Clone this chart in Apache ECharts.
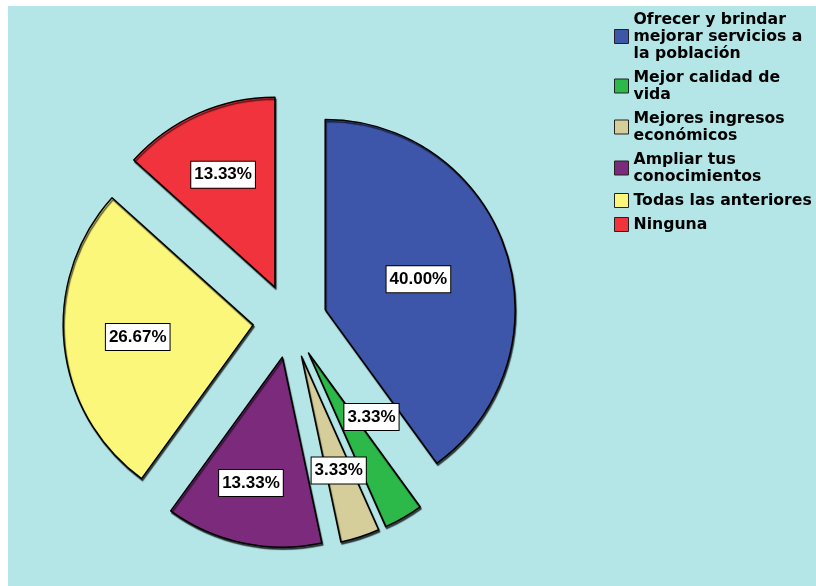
<!DOCTYPE html>
<html>
<head>
<meta charset="utf-8">
<script src="https://cdn.jsdelivr.net/npm/echarts@6/dist/echarts.min.js"></script>
<style>html,body{margin:0;padding:0;background:#fff;}#c{width:816px;height:586px;}</style>
</head>
<body>
<div id="c"></div>
<script>
const categories = [
  "Ofrecer y brindar\nmejorar servicios a\nla población",
  "Mejor calidad de\nvida",
  "Mejores ingresos\neconómicos",
  "Ampliar tus\nconocimientos",
  "Todas las anteriores",
  "Ninguna"
];
const percentValues = [40.00, 3.33, 3.33, 13.33, 26.67, 13.33];
const sliceColors = ["#3d56a9", "#2db84a", "#d5ce9a", "#7b2a7c", "#fbf77a", "#f0333c"];
// label nudges (px) from the default inside position
const labelNudges = [[0, 0], [14, -21], [7, 21], [-11, 30], [-18, 2], [-12, -23]];

const chart = echarts.init(document.getElementById('c'));
const data = categories.map((name, i) => ({
  name: name,
  value: percentValues[i],
  selected: true,
  itemStyle: { color: sliceColors[i] }
}));

chart.setOption({
  animation: false,
  backgroundColor: '#ffffff',
  graphic: [{
    type: 'rect', z: -10, silent: true,
    shape: { x: 8, y: 6, width: 808, height: 580 },
    style: { fill: '#b4e6e8' }
  }],
  legend: {
    orient: 'vertical',
    left: 614,
    top: 11,
    padding: 0,
    itemWidth: 14,
    itemHeight: 14,
    itemGap: 7,
    icon: 'rect',
    selectedMode: false,
    itemStyle: { borderColor: '#222', borderWidth: 1, shadowBlur: 0, shadowOffsetX: 0, shadowOffsetY: 0, shadowColor: 'transparent' },
    textStyle: {
      fontFamily: 'DejaVu Sans, sans-serif',
      fontWeight: 'bold',
      fontSize: 15.7,
      lineHeight: 17,
      color: '#000'
    },
    data: categories
  },
  series: [{
    type: 'pie',
    center: [290, 321],
    radius: [0, 190],
    startAngle: 90,
    clockwise: true,
    selectedMode: 'multiple',
    selectedOffset: 37,
    avoidLabelOverlap: false,
    emphasis: { disabled: true },
    itemStyle: {
      borderColor: '#000',
      borderWidth: 1.5,
      shadowColor: 'rgba(0,0,0,0.65)',
      shadowBlur: 1,
      shadowOffsetX: 1,
      shadowOffsetY: 2
    },
    label: {
      show: true,
      position: 'inside',
      formatter: p => p.value.toFixed(2) + '%',
      fontFamily: 'Liberation Sans, Arial, sans-serif',
      fontWeight: 'bold',
      fontSize: 17,
      color: '#000',
      backgroundColor: '#fff',
      borderColor: '#000',
      borderWidth: 1,
      padding: [5, 3, 4, 3]
    },
    labelLine: { show: false },
    labelLayout: function (params) {
      const n = labelNudges[params.dataIndex];
      return { dx: n[0], dy: n[1] };
    },
    data: data
  }]
});
</script>
</body>
</html>
